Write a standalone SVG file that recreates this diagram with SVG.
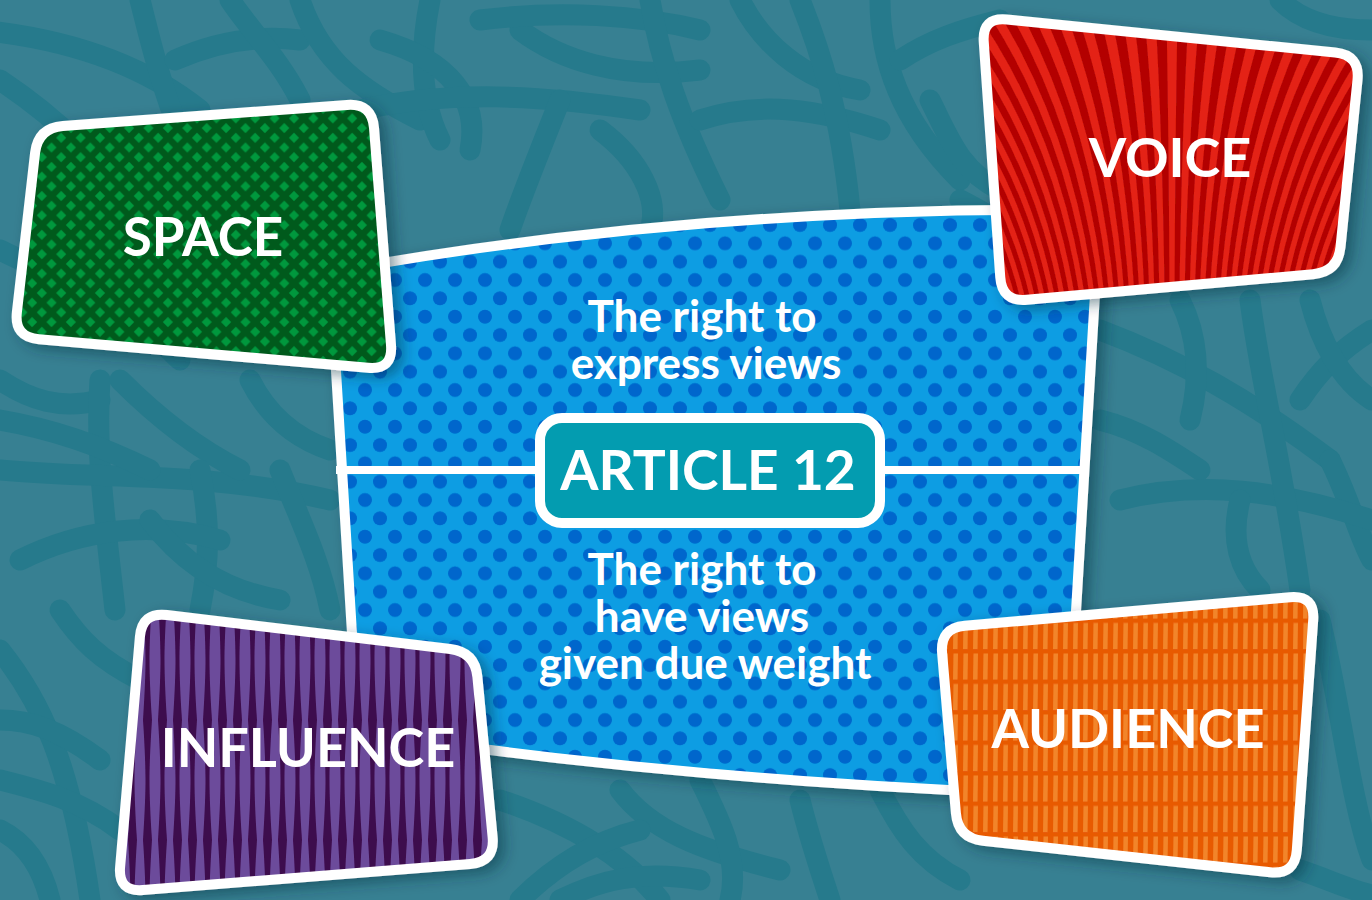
<svg xmlns="http://www.w3.org/2000/svg" width="1372" height="900" viewBox="0 0 1372 900">
<style>
.br{fill:none;stroke:#267a8c;stroke-linecap:round}
.lbl{font-family:Lato,"Open Sans","Liberation Sans",sans-serif;font-weight:700;fill:#ffffff;text-anchor:middle}
.edge{fill:none;stroke:#ffffff;stroke-width:10;stroke-linejoin:round}
</style>
<defs>
<filter id="sh" x="-15%" y="-15%" width="135%" height="135%">
<feDropShadow dx="7" dy="5" stdDeviation="7" flood-color="#0a2f3a" flood-opacity="0.45"/>
</filter>
<pattern id="pDots" width="30" height="36.67" patternUnits="userSpaceOnUse" x="5" y="32.5">
<rect width="30" height="36.67" fill="#0a9de3"/>
<circle cx="15" cy="9.17" r="7" fill="#0066cc"/>
<circle cx="0" cy="27.5" r="7" fill="#0066cc"/>
<circle cx="30" cy="27.5" r="7" fill="#0066cc"/>
</pattern>
<pattern id="pDiamond" width="19.4" height="19.4" patternUnits="userSpaceOnUse" x="3" y="2">
<rect width="19.4" height="19.4" fill="#005a1e"/>
<path d="M9.7 4.7L14.7 9.7L9.7 14.7L4.7 9.7Z M0 -5L5 0L0 5L-5 0Z M19.4 -5L24.4 0L19.4 5L14.4 0Z M0 14.4L5 19.4L0 24.4L-5 19.4Z M19.4 14.4L24.4 19.4L19.4 24.4L14.4 19.4Z" fill="#00983d"/>
</pattern>
<pattern id="pStripe" width="15" height="120" patternUnits="userSpaceOnUse" x="140" y="600">
<rect width="15" height="120" fill="#6c4c9b"/>
<path d="M3 0L12 0C10 30 9.5 50 9.5 60C9.5 70 10 90 12 120L3 120C5 90 5.5 70 5.5 60C5.5 50 5 30 3 0Z" fill="#3e0b4d"/>
</pattern>
<pattern id="pDash" width="10" height="30.5" patternUnits="userSpaceOnUse" x="0" y="591">
<rect width="10" height="30.5" fill="#e85a06"/>
<path d="M3.5 1.5L8 1.5L7.5 27.5L3 27.5Z" fill="#f2852a"/>
</pattern>
<clipPath id="cVoice">
<path d="M 1006.9 19.5 L 1335.1 52.5 Q 1360 55 1357.5 79.9 L 1340.5 247.1 Q 1338 272 1313.1 274.2 L 1026.9 299.8 Q 1002 302 1000.25 277.05 L 983.75 41.9 Q 982 17 1006.9 19.5 Z"/>
</clipPath>
</defs>

<g id="background">
<rect width="1372" height="900" fill="#378092"/>
<g class="br" stroke-width="21">
<path d="M -20 30 C 80 40 150 70 200 110"/>
<path d="M 0 80 C 60 120 100 160 140 220"/>
<path d="M 140 0 C 150 40 160 80 175 120"/>
<path d="M 175 60 C 220 40 260 35 300 40"/>
<path d="M 230 0 C 250 30 280 60 300 100"/>
<path d="M 300 0 C 320 60 360 90 420 120"/>
<path d="M 430 0 C 420 50 420 100 440 140"/>
<path d="M 380 40 C 450 60 480 100 470 150"/>
<path d="M 360 110 C 450 90 540 95 640 110"/>
<path d="M 520 30 C 560 60 620 80 700 70"/>
<path d="M 480 20 C 560 10 640 15 700 30"/>
<path d="M 650 0 C 660 60 680 120 720 200"/>
<path d="M 600 130 C 640 160 660 200 650 230"/>
<path d="M 700 120 C 760 100 820 110 880 130"/>
<path d="M 740 0 C 760 40 800 80 860 90"/>
<path d="M 800 0 C 820 50 840 110 850 210"/>
<path d="M 880 0 C 880 60 900 120 960 180"/>
<path d="M 930 100 C 950 140 960 170 1000 190"/>
<path d="M 560 100 C 540 150 520 200 510 230"/>
<path d="M 900 60 C 930 40 960 30 1000 20"/>
<path d="M 960 200 C 1000 220 1040 250 1090 260"/>
<path d="M 1280 0 C 1300 20 1330 30 1372 30"/>
<path d="M 0 250 C 60 280 120 300 180 360"/>
<path d="M 0 380 C 30 400 60 410 100 400"/>
<path d="M 100 380 C 95 450 105 520 115 610"/>
<path d="M 0 470 C 100 480 200 470 330 500"/>
<path d="M 0 420 C 60 430 110 450 150 470"/>
<path d="M 120 380 C 160 420 200 450 240 470"/>
<path d="M 200 470 C 210 520 210 560 200 610"/>
<path d="M 20 560 C 80 530 150 520 220 540"/>
<path d="M 150 520 C 180 560 220 590 280 600"/>
<path d="M 280 470 C 300 520 320 560 330 610"/>
<path d="M 250 380 C 270 420 300 440 330 450"/>
<path d="M 1100 330 C 1180 360 1250 400 1330 460"/>
<path d="M 1330 460 C 1350 500 1360 540 1372 560"/>
<path d="M 1100 420 C 1140 430 1170 450 1200 470"/>
<path d="M 1372 330 C 1340 350 1320 370 1300 400"/>
<path d="M 1120 500 C 1200 480 1280 490 1372 520"/>
<path d="M 1250 300 C 1260 380 1280 450 1300 590"/>
<path d="M 1180 300 C 1200 340 1200 380 1190 420"/>
<path d="M 1310 300 C 1320 340 1340 380 1372 400"/>
<path d="M 1240 500 C 1230 540 1240 570 1260 590"/>
<path d="M 0 650 C 40 700 70 760 90 900"/>
<path d="M 0 720 C 30 720 60 730 100 760"/>
<path d="M 0 780 C 40 790 80 800 120 830"/>
<path d="M 50 900 C 40 860 20 840 0 830"/>
<path d="M 60 610 C 80 640 100 660 140 680"/>
<path d="M 500 800 C 560 820 620 850 660 900"/>
<path d="M 620 790 C 650 830 700 850 780 870"/>
<path d="M 700 780 C 720 820 740 860 730 900"/>
<path d="M 560 900 C 600 880 640 870 700 880"/>
<path d="M 800 800 C 810 840 820 870 830 900"/>
<path d="M 880 790 C 900 830 920 860 960 880"/>
<path d="M 520 900 C 560 860 600 840 640 830"/>
<path d="M 1320 620 C 1340 700 1350 800 1372 860"/>
<path d="M 1300 870 C 1330 880 1350 890 1372 895"/>
</g>
</g>

<g id="node-article-panel" filter="url(#sh)">
<path d="M 330 272 Q 700 205 1100 210 L 1065 795 Q 692 782 358 732 Z" fill="url(#pDots)"/>
<path class="edge" d="M 330 272 Q 700 205 1100 210 L 1065 795 Q 692 782 358 732 Z"/>
</g>

<g id="connectors">
<line x1="336" y1="470" x2="1086" y2="470" stroke="#ffffff" stroke-width="8"/>
</g>

<g id="node-express">
<text class="lbl" x="702" y="332" font-size="44">The right to</text>
<text class="lbl" x="706" y="379" font-size="44">express views</text>
</g>

<g id="node-weight">
<text class="lbl" x="702" y="585" font-size="44">The right to</text>
<text class="lbl" x="702" y="632" font-size="44">have views</text>
<text class="lbl" x="705" y="679" font-size="44">given due weight</text>
</g>

<g id="node-article12">
<rect x="540" y="418" width="340" height="105" rx="22" fill="#039cb0" stroke="#ffffff" stroke-width="10"/>
<text class="lbl" x="708" y="490" font-size="55">ARTICLE 12</text>
</g>

<g id="node-space" filter="url(#sh)">
<path d="M 62.9 126.1 L 347.1 104.9 Q 372 103 374 127.9 L 391 345.1 Q 393 370 368.1 367.8 L 38.9 339.2 Q 14 337 16.9 312.2 L 35.1 152.8 Q 38 128 62.9 126.1 Z" fill="url(#pDiamond)" stroke="#ffffff" stroke-width="10" stroke-linejoin="round"/>
<text class="lbl" x="203" y="256" font-size="53">SPACE</text>
</g>

<g id="node-voice" filter="url(#sh)">
<path d="M 1006.9 19.5 L 1335.1 52.5 Q 1360 55 1357.5 79.9 L 1340.5 247.1 Q 1338 272 1313.1 274.2 L 1026.9 299.8 Q 1002 302 1000.25 277.05 L 983.75 41.9 Q 982 17 1006.9 19.5 Z" fill="#b30606"/>
<path clip-path="url(#cVoice)" fill="#e42313" d="M970.1 330Q917 120 619.5 -30L632.5 -30Q923 120 974.9 330Z M979.6 330Q929 120 645.5 -30L658.5 -30Q935 120 984.4 330Z M989.1 330Q941 120 671.5 -30L684.5 -30Q947 120 993.9 330Z M998.6 330Q953 120 697.5 -30L710.5 -30Q959 120 1003.4 330Z M1008.1 330Q965 120 723.5 -30L736.5 -30Q971 120 1012.9 330Z M1017.6 330Q977 120 749.5 -30L762.5 -30Q983 120 1022.4 330Z M1027.1 330Q989 120 775.5 -30L788.5 -30Q995 120 1031.9 330Z M1036.6 330Q1001 120 801.5 -30L814.5 -30Q1007 120 1041.4 330Z M1046.1 330Q1013 120 827.5 -30L840.5 -30Q1019 120 1050.9 330Z M1055.6 330Q1025 120 853.5 -30L866.5 -30Q1031 120 1060.4 330Z M1065.1 330Q1037 120 879.5 -30L892.5 -30Q1043 120 1069.9 330Z M1074.6 330Q1049 120 905.5 -30L918.5 -30Q1055 120 1079.4 330Z M1084.1 330Q1061 120 931.5 -30L944.5 -30Q1067 120 1088.9 330Z M1093.6 330Q1073 120 957.5 -30L970.5 -30Q1079 120 1098.4 330Z M1103.1 330Q1085 120 983.5 -30L996.5 -30Q1091 120 1107.9 330Z M1112.6 330Q1097 120 1009.5 -30L1022.5 -30Q1103 120 1117.4 330Z M1122.1 330Q1109 120 1035.5 -30L1048.5 -30Q1115 120 1126.9 330Z M1131.6 330Q1121 120 1061.5 -30L1074.5 -30Q1127 120 1136.4 330Z M1141.1 330Q1133 120 1087.5 -30L1100.5 -30Q1139 120 1145.9 330Z M1150.6 330Q1145 120 1113.5 -30L1126.5 -30Q1151 120 1155.4 330Z M1160.1 330Q1157 120 1139.5 -30L1152.5 -30Q1163 120 1164.9 330Z M1169.6 330Q1169 120 1165.5 -30L1178.5 -30Q1175 120 1174.4 330Z M1179.1 330Q1181 120 1191.5 -30L1204.5 -30Q1187 120 1183.9 330Z M1188.6 330Q1193 120 1217.5 -30L1230.5 -30Q1199 120 1193.4 330Z M1198.1 330Q1205 120 1243.5 -30L1256.5 -30Q1211 120 1202.9 330Z M1207.6 330Q1217 120 1269.5 -30L1282.5 -30Q1223 120 1212.4 330Z M1217.1 330Q1229 120 1295.5 -30L1308.5 -30Q1235 120 1221.9 330Z M1226.6 330Q1241 120 1321.5 -30L1334.5 -30Q1247 120 1231.4 330Z M1236.1 330Q1253 120 1347.5 -30L1360.5 -30Q1259 120 1240.9 330Z M1245.6 330Q1265 120 1373.5 -30L1386.5 -30Q1271 120 1250.4 330Z M1255.1 330Q1277 120 1399.5 -30L1412.5 -30Q1283 120 1259.9 330Z M1264.6 330Q1289 120 1425.5 -30L1438.5 -30Q1295 120 1269.4 330Z M1274.1 330Q1301 120 1451.5 -30L1464.5 -30Q1307 120 1278.9 330Z M1283.6 330Q1313 120 1477.5 -30L1490.5 -30Q1319 120 1288.4 330Z M1293.1 330Q1325 120 1503.5 -30L1516.5 -30Q1331 120 1297.9 330Z M1302.6 330Q1337 120 1529.5 -30L1542.5 -30Q1343 120 1307.4 330Z M1312.1 330Q1349 120 1555.5 -30L1568.5 -30Q1355 120 1316.9 330Z M1321.6 330Q1361 120 1581.5 -30L1594.5 -30Q1367 120 1326.4 330Z M1331.1 330Q1373 120 1607.5 -30L1620.5 -30Q1379 120 1335.9 330Z M1340.6 330Q1385 120 1633.5 -30L1646.5 -30Q1391 120 1345.4 330Z M1350.1 330Q1397 120 1659.5 -30L1672.5 -30Q1403 120 1354.9 330Z M1359.6 330Q1409 120 1685.5 -30L1698.5 -30Q1415 120 1364.4 330Z"/>
<path class="edge" d="M 1006.9 19.5 L 1335.1 52.5 Q 1360 55 1357.5 79.9 L 1340.5 247.1 Q 1338 272 1313.1 274.2 L 1026.9 299.8 Q 1002 302 1000.25 277.05 L 983.75 41.9 Q 982 17 1006.9 19.5 Z"/>
<text class="lbl" x="1170" y="177" font-size="54">VOICE</text>
</g>

<g id="node-influence" filter="url(#sh)">
<path d="M 166.8 615 L 450.2 649 Q 475 652 477.4 676.9 L 492.6 837.1 Q 495 862 470.1 864 L 142.9 890 Q 118 892 120.1 867.1 L 139.9 636.9 Q 142 612 166.8 615 Z" fill="url(#pStripe)" stroke="#ffffff" stroke-width="10" stroke-linejoin="round"/>
<text class="lbl" x="308" y="767" font-size="54">INFLUENCE</text>
</g>

<g id="node-audience" filter="url(#sh)">
<path d="M 964.9 625.8 L 1290.1 597.2 Q 1315 595 1313.2 620 L 1296.8 850 Q 1295 875 1270.1 872.3 L 982.9 840.7 Q 958 838 955.9 813.1 L 942.1 652.9 Q 940 628 964.9 625.8 Z" fill="url(#pDash)" stroke="#ffffff" stroke-width="10" stroke-linejoin="round"/>
<text class="lbl" x="1128" y="748" font-size="54">AUDIENCE</text>
</g>
</svg>
